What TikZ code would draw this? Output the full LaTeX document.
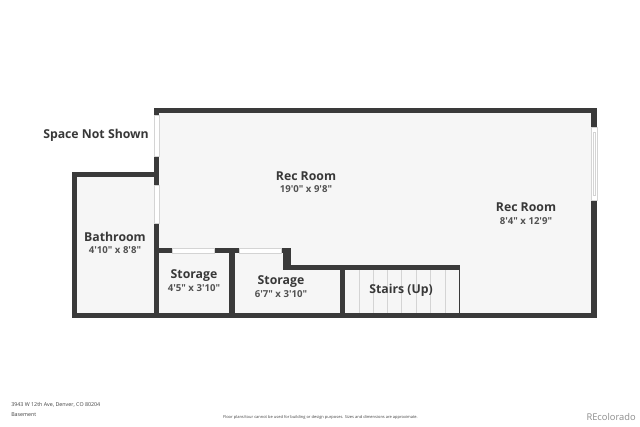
\documentclass[tikz,border=0pt]{standalone}
\usepackage{fontspec}
\setmainfont{Open Sans}[Ligatures=TeXOff]
\definecolor{wallgrey}{HTML}{3A3A3A}
\definecolor{floorgrey}{HTML}{F6F6F6}
\definecolor{linegrey}{HTML}{D4D4D4}
\tikzset{
  wall/.style={fill=wallgrey, draw=none},
  opening/.style={fill=white, draw=linegrey, line width=0.3pt},
  tread/.style={draw=linegrey, line width=0.5pt},
  roomname/.style={font=\fontsize{9.2}{10}\selectfont\bfseries, text=black!78, inner sep=0pt},
  roomsize/.style={font=\fontsize{7.2}{8}\selectfont\bfseries, text=black!68, inner sep=0pt},
  smallprint/.style={font=\fontsize{3}{4}\selectfont, text=black!75, inner sep=0pt}
}
\begin{document}
\begin{tikzpicture}[x=0.75pt, y=-0.75pt]
  \useasboundingbox (0,0) rectangle (640,426);
  % floors
  \fill[floorgrey] (157,110) -- (594,110) -- (594,316) -- (74,316) -- (74,175) -- (157,175) -- cycle;
  % walls
  \fill[wall] (154,107.5) rectangle (597,113);
  \fill[wall] (591,107.5) rectangle (597,127);
  \fill[wall] (591,200) rectangle (597,318);
  \fill[wall] (72,313) rectangle (597,318);
  \fill[wall] (72,172) rectangle (77,318);
  \fill[wall] (72,172) rectangle (154,177);
  \fill[wall] (154,107.5) rectangle (159,115);
  \fill[wall] (154,156) rectangle (159,185);
  \fill[wall] (154,223) rectangle (159,318);
  \fill[wall] (159,248) rectangle (172,253);
  \fill[wall] (214,248) rectangle (239,253);
  \fill[wall] (281,248) rectangle (291,253);
  \fill[wall] (283,248) rectangle (291,270);
  \fill[wall] (283,265) rectangle (460,270);
  \fill[wall] (229,253) rectangle (235,313);
  \fill[wall] (340,270) rectangle (345,313);
  \fill[wall] (459,270) rectangle (460.2,313);
  % openings
  \draw[opening] (154,115) rectangle (159,156);
  \draw[opening] (154,185) rectangle (159,223);
  \draw[opening] (172,248) rectangle (214,253);
  \draw[opening] (239,248) rectangle (281,253);
  \draw[opening] (591,127) rectangle (597,200);
  \draw[opening] (593,132) rectangle (595.5,195);
  % stairs
  \foreach \tx in {359,373,387,401,416,430,445} {
    \draw[tread] (\tx,270) -- (\tx,313);
  }
  % labels
  \node[roomname, anchor=east] (spacenotshown) at (149,135.5) {Space Not Shown};
  \node[roomname] (recroomleft) at (306,176) {Rec Room};
  \node[roomsize] (recroomleftsize) at (306,189.5) {19'0" x 9'8"};
  \node[roomname] (recroomright) at (526,207.5) {Rec Room};
  \node[roomsize] (recroomrightsize) at (526,221.5) {8'4" x 12'9"};
  \node[roomname] (bathroom) at (115,237) {Bathroom};
  \node[roomsize] (bathroomsize) at (115,250.5) {4'10" x 8'8"};
  \node[roomname] (storageleft) at (194,275.5) {Storage};
  \node[roomsize] (storageleftsize) at (194,288.5) {4'5" x 3'10"};
  \node[roomname] (storageright) at (281,281.5) {Storage};
  \node[roomsize] (storagerightsize) at (281,294.5) {6'7" x 3'10"};
  \node[roomname] (stairs) at (401,290.5) {Stairs (Up)};
  % footer
  \node[smallprint, font=\fontsize{4}{5}\selectfont, anchor=west] (address) at (11,405) {3943 W 12th Ave, Denver, CO 80204};
  \node[smallprint, font=\fontsize{4}{5}\selectfont, anchor=west] (level) at (11,415) {Basement};
  \node[smallprint, anchor=center] (disclaimer) at (320.5,417.5) {Floor plans/tour cannot be used for building or design purposes. Sizes and dimensions are approximate.};
  \node[font=\fontsize{7}{8}\selectfont, text=black!45, inner sep=0pt, anchor=east] (brand) at (636,417) {REcolorado};
\end{tikzpicture}
\end{document}
